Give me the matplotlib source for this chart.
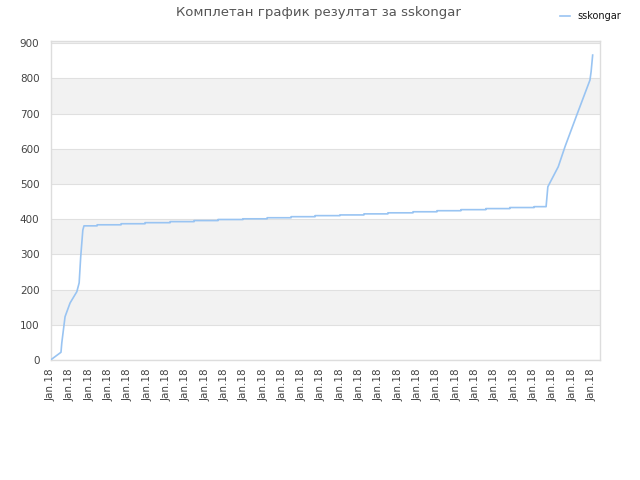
import numpy as np
import matplotlib
matplotlib.use("Agg")
import matplotlib.pyplot as plt

# player progress, x in day-tick units, y in points
rise_x = [0.0, 0.54, 0.58, 0.75, 1.01, 1.36, 1.48, 1.56, 1.67, 1.73]
rise_y = [0, 22, 48, 123, 162, 194, 219, 293, 369, 381]

step_x = [1.73, 2.41, 3.65, 4.89, 6.19, 7.43, 8.67, 9.96, 11.21, 12.45,
          13.69, 14.98, 16.22, 17.46, 18.76, 20.0, 21.24, 22.53, 23.77, 25.03]
step_y = [381, 384, 387, 390, 393, 396, 399, 401, 404, 407,
          410, 412, 415, 418, 421, 424, 427, 430, 433, 435.5]
step_end = 25.65

end_x = [25.65, 25.74, 26.28, 26.63, 27.24, 27.92, 27.98, 28.06]
end_y = [435.5, 492, 549, 606, 696, 795, 819, 866]

tick_labels = ["Jan.18"] * 29
player = "sskongar"

# build one polyline: rise, staircase, final climb
xs, ys = list(rise_x), list(rise_y)
for i in range(len(step_x)):
    nxt = step_x[i + 1] if i + 1 < len(step_x) else step_end
    xs += [step_x[i], nxt]
    ys += [step_y[i], step_y[i]]
xs += end_x
ys += end_y

fig = plt.figure(figsize=(6.4, 4.8), dpi=100)
ax = fig.add_axes([0.079, 0.25, 0.8585, 0.6646])

ax.set_xlim(0, 28.44)
ax.set_ylim(0, 906)

for lo in [100, 300, 500, 700, 900]:
    ax.axhspan(lo, lo + 100, color="#f2f2f2", zorder=0, lw=0)
for y in range(0, 1000, 100):
    ax.axhline(y, color="#e0e0e0", lw=0.8, zorder=1)

ax.plot(xs, ys, color="#99c4f2", lw=1.2, zorder=3, label=player)

ax.set_yticks(range(0, 1000, 100))
ax.set_xticks(np.arange(len(tick_labels)))
ax.set_xticklabels(tick_labels, rotation=90, fontsize=7.5, color="#444444")
ax.tick_params(axis="y", labelsize=7.5, labelcolor="#444444", length=0, pad=8)
ax.tick_params(axis="x", length=0, pad=6)

for s in ax.spines.values():
    s.set_color("#dddddd")
    s.set_linewidth(1)

fig.text(0.497, 0.974, "Комплетан график резултат за sskongar",
         ha="center", va="center", fontsize=9.5, color="#555555")
leg = fig.legend(loc="upper right", bbox_to_anchor=(0.985, 0.995),
                 frameon=False, fontsize=7, handlelength=1.0,
                 handletextpad=0.8)
for t in leg.get_texts():
    t.set_color("#111111")

plt.savefig("out.png", dpi=100)
